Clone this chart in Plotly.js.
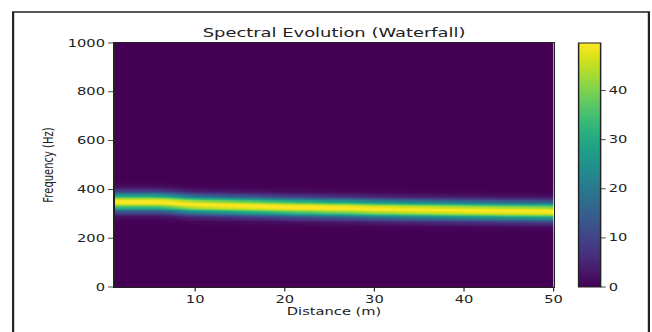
<!DOCTYPE html>
<html>
<head>
<meta charset="utf-8">
<script src="https://cdn.plot.ly/plotly-3.0.1.min.js"></script>
<style>
  html, body { margin: 0; padding: 0; background: #fff; overflow: hidden; width: 652px; height: 332px; }
  #plot { width: 444px; height: 332px; transform: scaleX(1.4685); transform-origin: 0 0; }
</style>
</head>
<body>
<div id="plot"></div>
<script>
// Distance (m) at each column of the waterfall
const distances = [1,2,3,4,5,6,7,8,9,10,11,12,13,14,15,16,17,18,19,20,21,22,23,24,25,
                   26,27,28,29,30,31,32,33,34,35,36,37,38,39,40,41,42,43,44,45,46,47,48,49,50];
const peakFreqs = [350,350,350,350,350,349,347,344,341,339,338,337,336,335,334,333,332,331,330,329,
                   328,327.5,327,326,325,324.5,324,323,322,321,320.5,320,319,318.5,318,317.5,317,316.5,316,315.5,
                   315,314.5,314,313.5,313,313,312.5,312,312,311];
// Peak amplitude and spectral width of the band
const peakAmplitude = 49.7;
const bandWidthHz = 25;
// Frequency bins (Hz)
const freqMin = 0, freqMax = 1000, freqStep = 5;
const xTicks = [10,20,30,40,50];
const yTicks = [0,200,400,600,800,1000];
const cbTicks = [0,10,20,30,40];

const freqs = [];
for (let f = freqMin; f <= freqMax; f += freqStep) freqs.push(f);
const z = freqs.map(f => peakFreqs.map(c => peakAmplitude * Math.exp(-0.5 * Math.pow((f - c) / bandWidthHz, 2))));

const font = "DejaVu Sans, Liberation Sans, sans-serif";

const trace = {
  type: 'heatmap',
  x: distances,
  y: freqs,
  z: z,
  colorscale: 'Viridis',
  zmin: 0,
  zsmooth: 'best',
  hoverinfo: 'skip',
  colorbar: {
    x: 1.0555, xanchor: 'left', xpad: 0,
    y: 0.5, yanchor: 'middle', ypad: 0,
    len: 1, lenmode: 'fraction',
    thickness: 15, thicknessmode: 'pixels',
    outlinewidth: 1, outlinecolor: '#222',
    ticks: 'outside', ticklen: 3.5, tickwidth: 0.8, tickcolor: '#222',
    tickvals: cbTicks,
    tickfont: {family: font, size: 10, color: '#222'}
  }
};

const layout = {
  width: 444, height: 332,
  margin: {l: 78, r: 67, t: 43, b: 45, pad: 0},
  paper_bgcolor: '#fff', plot_bgcolor: '#fff',
  font: {family: font, color: '#222'},
  title: {text: 'Spectral Evolution (Waterfall)', font: {family: font, size: 12.2, color: '#222'},
          x: 0.5, xref: 'paper', xanchor: 'center', y: 0.9, yref: 'container', yanchor: 'middle'},
  xaxis: {
    range: [1, 50], tickvals: xTicks, ticks: 'outside', ticklen: 3.5, tickwidth: 0.8, tickcolor: '#222',
    showline: true, linecolor: '#222', linewidth: 1, mirror: true, showgrid: false, zeroline: false,
    tickfont: {family: font, size: 10, color: '#222'},
    title: {text: 'Distance (m)', font: {family: font, size: 10, color: '#222'}, standoff: 3},
    automargin: false
  },
  yaxis: {
    range: [0, 1000], tickvals: yTicks, ticks: 'outside', ticklen: 3.5, tickwidth: 0.8, tickcolor: '#222',
    showline: true, linecolor: '#222', linewidth: 1, mirror: true, showgrid: false, zeroline: false,
    tickfont: {family: font, size: 10, color: '#222'},
    title: {text: 'Frequency (Hz)', font: {family: font, size: 10, color: '#222'}, standoff: 7},
    automargin: false
  },
  shapes: [{
    type: 'rect', xref: 'paper', yref: 'paper',
    x0: -0.231, x1: 1.217, y0: -0.3, y1: 1.127,
    line: {color: '#222', width: 1.5}, fillcolor: 'rgba(0,0,0,0)', layer: 'above'
  }]
};

Plotly.newPlot('plot', [trace], layout, {staticPlot: true, displayModeBar: false});
</script>
</body>
</html>
